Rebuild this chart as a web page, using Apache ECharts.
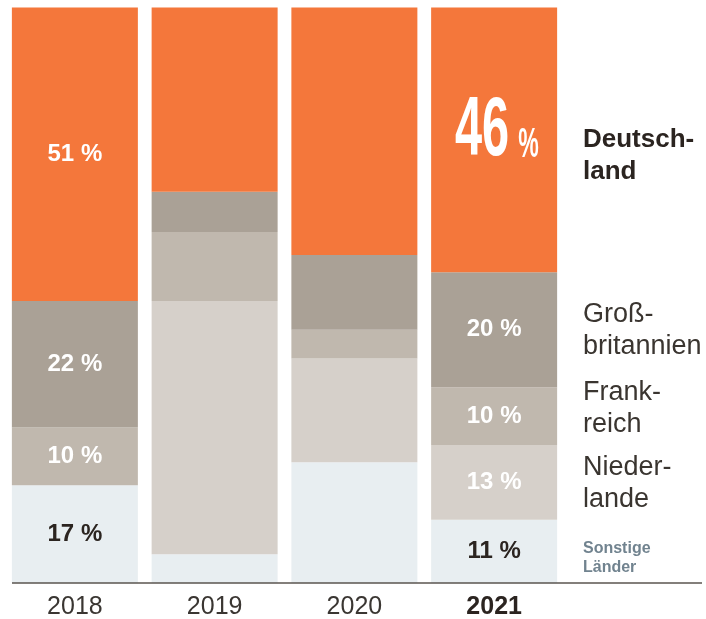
<!DOCTYPE html>
<html>
<head>
<meta charset="UTF-8">
<title>Exporte nach Ländern</title>
<script src="https://cdn.jsdelivr.net/npm/echarts@6/dist/echarts.min.js"></script>
<style>
  html, body { margin: 0; padding: 0; background: #fff; }
</style>
</head>
<body>
<div id="main" style="width: 706px;height:619px;"></div>
<script type="text/javascript">
// Daten (Anteile in %)
var years = ['2018', '2019', '2020', '2021'];
var sonstige = [17, 5, 21, 11];
var niederlande = [0, 44, 18, 13];
var frankreich = [10, 12, 5, 10];
var grossbritannien = [22, 7, 13, 20];
var deutschland = [51, 32, 43, 46];
var labelledYears = ['2018', '2021'];
var bigYear = '2021'; // Deutschland 2021 wird groß beschriftet

var font = '"Liberation Sans", Arial, sans-serif';

function items(values, skipBig) {
    return values.map(function (v, i) {
        var show = labelledYears.indexOf(years[i]) >= 0 && v > 0;
        if (skipBig && years[i] === bigYear) show = false;
        return { value: v, label: { show: show } };
    });
}

function barSeries(name, values, color, labelColor, skipBig) {
    return {
        name: name,
        type: 'bar',
        stack: 'total',
        barWidth: 126,
        itemStyle: { color: color },
        label: {
            position: 'inside',
            formatter: '{c} %',
            color: labelColor,
            fontFamily: font,
            fontWeight: 'bold',
            fontSize: 24
        },
        emphasis: { disabled: true },
        data: items(values, skipBig)
    };
}

var myChart = echarts.init(document.getElementById('main'));

var option = {
    animation: false,
    grid: { left: 5, right: 142, top: 7.5, bottom: 36, outerBoundsMode: 'none', containLabel: false },
    xAxis: {
        type: 'category',
        data: years,
        axisLine: { show: false },
        axisTick: { show: false },
        axisLabel: {
            margin: 12,
            fontFamily: font,
            fontSize: 25,
            color: '#3a3632',
            formatter: function (v) { return v === bigYear ? '{b|' + v + '}' : v; },
            rich: { b: { fontFamily: font, fontSize: 25, fontWeight: 'bold', color: '#2b2420' } }
        }
    },
    yAxis: { type: 'value', min: 0, max: 100, show: false },
    series: [
        barSeries('Sonstige Länder', sonstige, '#e8eef1', '#2b2420'),
        barSeries('Niederlande', niederlande, '#d6d0ca', '#ffffff'),
        barSeries('Frankreich', frankreich, '#c0b8ae', '#ffffff'),
        barSeries('Großbritannien', grossbritannien, '#aaa196', '#ffffff'),
        barSeries('Deutschland', deutschland, '#f4773b', '#ffffff', true)
    ]
};
myChart.setOption(option);

// Achsenlinie, große Zahl und Beschriftungen rechts
var base = myChart.convertToPixel({ gridIndex: 0 }, [years[0], 0]);
var bi = years.indexOf(bigYear);
var dBottom = sonstige[bi] + niederlande[bi] + frankreich[bi] + grossbritannien[bi];
var big = myChart.convertToPixel({ gridIndex: 0 }, [bigYear, dBottom + deutschland[bi] / 2]);

var legendText = function (text, y, size, lh, weight, color) {
    return {
        type: 'text', x: 583, y: y, z: 100,
        style: { text: text, fontFamily: font, fontSize: size, fontWeight: weight, fill: color, lineHeight: lh, verticalAlign: 'middle' }
    };
};

myChart.setOption({
    graphic: [
        { type: 'line', z: 100, shape: { x1: 12, y1: base[1], x2: 702, y2: base[1] }, style: { stroke: '#5a544f', lineWidth: 1.5 } },
        {
            type: 'text', z: 100, x: big[0] + 15, y: big[1] - 8, scaleX: 0.58,
            style: { text: String(deutschland[bi]), fontFamily: font, fontWeight: 'bold', fontSize: 84, fill: '#fff', align: 'right', verticalAlign: 'middle' }
        },
        {
            type: 'text', z: 100, x: big[0] + 24, y: big[1] + 6, scaleX: 0.55,
            style: { text: '%', fontFamily: font, fontWeight: 'bold', fontSize: 42, fill: '#fff', align: 'left', verticalAlign: 'middle' }
        },
        legendText('Deutsch-\nland', 156, 26, 32, 'bold', '#2b2420'),
        legendText('Groß-\nbritannien', 331, 27, 32, 'normal', '#3a3530'),
        legendText('Frank-\nreich', 409, 27, 32, 'normal', '#3a3530'),
        legendText('Nieder-\nlande', 484, 27, 32, 'normal', '#3a3530'),
        legendText('Sonstige\nLänder', 558, 16, 19, 'bold', '#71838f')
    ]
});
</script>
</body>
</html>
